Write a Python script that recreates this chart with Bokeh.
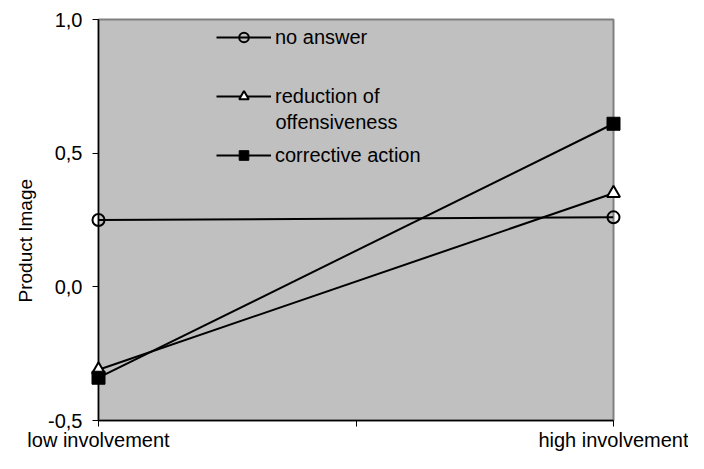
import math
from bokeh.plotting import figure
from bokeh.models import (Range1d, FixedTicker, CustomJSTickFormatter, Label,
                          Legend, LegendItem, ColumnDataSource, Title)
from bokeh.embed import file_html
from bokeh.resources import INLINE

# ---- data ----
categories = ["low involvement", "high involvement"]
no_answer = [0.25, 0.26]
reduction = [-0.31, 0.35]
corrective = [-0.34, 0.61]
y_ticks = [-0.5, 0.0, 0.5, 1.0]
x_ticks = [0, 0.5, 1]

FONT = "Liberation Sans"
xs = list(range(len(categories)))

p = figure(width=688, height=453, output_backend="svg", toolbar_location=None,
           x_range=Range1d(0, len(categories) - 1), y_range=Range1d(-0.5, 1.0),
           min_border_left=98, min_border_right=75, min_border_top=19,
           min_border_bottom=30)
p.background_fill_color = "#C0C0C0"
p.border_fill_color = "white"
p.outline_line_color = "#808080"
p.outline_line_width = 2
p.xgrid.visible = False
p.ygrid.visible = False

for ax in (p.xaxis[0], p.yaxis[0]):
    ax.axis_line_color = "black"
    ax.axis_line_width = 1.5
    ax.major_tick_line_color = "black"
    ax.major_tick_out = 6
    ax.major_tick_in = 0
    ax.minor_tick_line_color = None
    ax.major_label_text_font = FONT
    ax.major_label_text_font_size = "20px"
    ax.major_label_text_color = "black"

p.yaxis.ticker = FixedTicker(ticks=y_ticks)
p.yaxis.formatter = CustomJSTickFormatter(code="return tick.toFixed(1).replace('.', ',');")
p.yaxis.major_label_standoff = 10

p.xaxis.ticker = FixedTicker(ticks=x_ticks)
p.xaxis.formatter = CustomJSTickFormatter(args=dict(labels=categories), code="""
const i = Math.round(tick);
return (Math.abs(tick - i) < 1e-9 && i >= 0 && i < labels.length) ? labels[i] : "";
""")
p.xaxis.major_label_standoff = 2

src = ColumnDataSource(dict(x=xs, na=no_answer, red=reduction, cor=corrective))

l1 = p.line("x", "na", source=src, line_color="black", line_width=2)
l2 = p.line("x", "red", source=src, line_color="black", line_width=2)
l3 = p.line("x", "cor", source=src, line_color="black", line_width=2)
m1 = p.scatter("x", "na", source=src, marker="circle", size=12,
               fill_color=None, line_color="black", line_width=2, level="overlay")
m2 = p.scatter("x", "red", source=src, marker="triangle", size=13,
               fill_color="white", line_color="black", line_width=2, level="overlay")
m3 = p.scatter("x", "cor", source=src, marker="square", size=13,
               fill_color="black", line_color="black", line_width=1, level="overlay")

legend = Legend(items=[
    LegendItem(label="no answer", renderers=[l1, m1]),
    LegendItem(label="reduction of", renderers=[l2, m2]),
    LegendItem(label="corrective action", renderers=[l3, m3]),
], location=(118, 253))
legend.background_fill_alpha = 0
legend.border_line_color = None
legend.padding = 0
legend.margin = 0
legend.spacing = 35
legend.glyph_width = 55
legend.glyph_height = 24
legend.label_height = 24
legend.label_standoff = 4
legend.label_text_font = FONT
legend.label_text_font_size = "20px"
legend.label_text_color = "black"
p.add_layout(legend)

p.add_layout(Label(x=177, y=299, x_units="screen", y_units="screen",
                   text="offensiveness", text_font=FONT, text_font_size="20px",
                   text_baseline="middle", text_align="left", text_color="black"))

p.add_layout(Title(text="Product Image", align="left", offset=118,
                   text_font=FONT, text_font_size="19px", text_font_style="normal",
                   text_color="black", standoff=20), "left")

open("out.html", "w").write(file_html(p, INLINE))
